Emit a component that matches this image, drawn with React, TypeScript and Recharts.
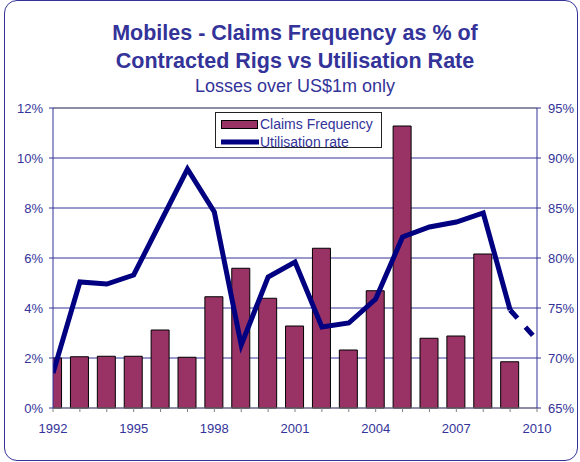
import React from 'react';
import {
  ComposedChart,
  Bar,
  Line,
  XAxis,
  YAxis,
  CartesianGrid,
  ReferenceLine,
} from 'recharts';

const years = [1992, 1993, 1994, 1995, 1996, 1997, 1998, 1999, 2000, 2001, 2002, 2003, 2004, 2005, 2006, 2007, 2008, 2009, 2010];
const claimsFrequency = [2.0, 2.05, 2.07, 2.07, 3.12, 2.03, 4.45, 5.59, 4.39, 3.28, 6.39, 2.32, 4.69, 11.28, 2.79, 2.88, 6.16, 1.85, null];
const utilisationRate = [68.5, 77.6, 77.4, 78.3, 83.6, 88.9, 84.6, 71.3, 78.1, 79.6, 73.1, 73.5, 75.9, 82.1, 83.1, 83.6, 84.5, 74.8, null];
const utilisationProjected = [null, null, null, null, null, null, null, null, null, null, null, null, null, null, null, null, null, 74.8, 71.8];
const xLabelYears = [1992, 1995, 1998, 2001, 2004, 2007, 2010];
const leftTicks = [0, 2, 4, 6, 8, 10, 12];
const rightTicks = [65, 70, 75, 80, 85, 90, 95];

const titleLines = ['Mobiles - Claims Frequency as % of', 'Contracted Rigs vs Utilisation Rate'];
const subtitle = 'Losses over US$1m only';
const legendLabels = ['Claims Frequency', 'Utilisation rate'];

const data = years.map((y, i) => ({
  year: y,
  claims: claimsFrequency[i],
  util: utilisationRate[i],
  proj: utilisationProjected[i],
}));

const TEXT = '#333399';
const FONT = '"Liberation Sans", Arial, sans-serif';

const LegendBox = () => (
  <div
    style={{
      position: 'absolute',
      left: 215,
      top: 112,
      width: 167,
      height: 36,
      border: '1px solid #222',
      background: '#fff',
      boxSizing: 'border-box',
      fontFamily: FONT,
      fontSize: 14,
      color: TEXT,
    }}
  >
    <svg width={44} height={34} style={{ position: 'absolute', left: 0, top: 0 }}>
      <rect x={5.5} y={7.5} width={36} height={8} fill="#993366" stroke="#000" strokeWidth={1} />
      <line x1={5} y1={29} x2={43} y2={29} stroke="#000080" strokeWidth={5} />
    </svg>
    <div style={{ position: 'absolute', left: 44, top: 3, lineHeight: '16px', whiteSpace: 'nowrap' }}>{legendLabels[0]}</div>
    <div style={{ position: 'absolute', left: 44, top: 21, lineHeight: '16px', whiteSpace: 'nowrap' }}>{legendLabels[1]}</div>
  </div>
);

export default function App() {
  return (
    <div style={{ position: 'absolute', left: 0, top: 0, width: 580, height: 462, background: '#fff', fontFamily: FONT }}>
      <div
        style={{
          position: 'absolute',
          left: 4,
          top: 0,
          width: 574,
          height: 461,
          border: '1.5px solid #333399',
          borderRadius: 13,
          boxSizing: 'border-box',
        }}
      />
      <svg width={580} height={100} style={{ position: 'absolute', left: 0, top: 0 }}>
        <text x={295} y={40} textAnchor="middle" fill={TEXT} fontSize={21.5} fontWeight="bold" fontFamily={FONT}>
          {titleLines[0]}
        </text>
        <text x={295} y={68} textAnchor="middle" fill={TEXT} fontSize={21.5} fontWeight="bold" fontFamily={FONT}>
          {titleLines[1]}
        </text>
        <text x={295} y={92} textAnchor="middle" fill={TEXT} fontSize={18} fontFamily={FONT}>
          {subtitle}
        </text>
      </svg>
      <div style={{ position: 'absolute', left: 0, top: 0 }}>
        <ComposedChart width={580} height={462} data={data} margin={{ top: 108, right: 3, bottom: 24, left: 8 }}>
          <CartesianGrid yAxisId="left" vertical={false} stroke="#333399" strokeWidth={1} />
          <XAxis
            dataKey="year"
            type="number"
            domain={[1992, 2010]}
            ticks={years}
            interval={0}
            allowDataOverflow
            tickFormatter={(v: number) => (xLabelYears.includes(v) ? String(v) : '')}
            stroke="#808080"
            tick={{ fill: TEXT, fontSize: 13, fontFamily: FONT }}
            tickSize={4}
            tickMargin={12}
            height={30}
          />
          <YAxis
            yAxisId="left"
            domain={[0, 12]}
            ticks={leftTicks}
            interval={0}
            tickFormatter={(v: number) => `${v}%`}
            stroke="#333399"
            tick={{ fill: TEXT, fontSize: 13, fontFamily: FONT }}
            tickSize={4}
            tickMargin={6}
            width={45}
          />
          <YAxis
            yAxisId="right"
            orientation="right"
            domain={[65, 95]}
            ticks={rightTicks}
            interval={0}
            tickFormatter={(v: number) => `${v}%`}
            stroke="#333399"
            tick={{ fill: TEXT, fontSize: 13, fontFamily: FONT }}
            tickSize={4}
            tickMargin={7}
            width={40}
          />
          <ReferenceLine yAxisId="left" y={12} stroke="#808080" strokeWidth={1} />
          <Bar
            yAxisId="left"
            dataKey="claims"
            name="Claims Frequency"
            barSize={18}
            fill="#993366"
            stroke="#000"
            strokeWidth={1}
            isAnimationActive={false}
          />
          <Line
            yAxisId="right"
            dataKey="util"
            name="Utilisation rate"
            type="linear"
            stroke="#000080"
            strokeWidth={5}
            dot={false}
            activeDot={false}
            isAnimationActive={false}
          />
          <Line
            yAxisId="right"
            dataKey="proj"
            type="linear"
            stroke="#000080"
            strokeWidth={5}
            strokeDasharray="11 12"
            dot={false}
            activeDot={false}
            isAnimationActive={false}
          />
        </ComposedChart>
      </div>
      <LegendBox />
    </div>
  );
}
